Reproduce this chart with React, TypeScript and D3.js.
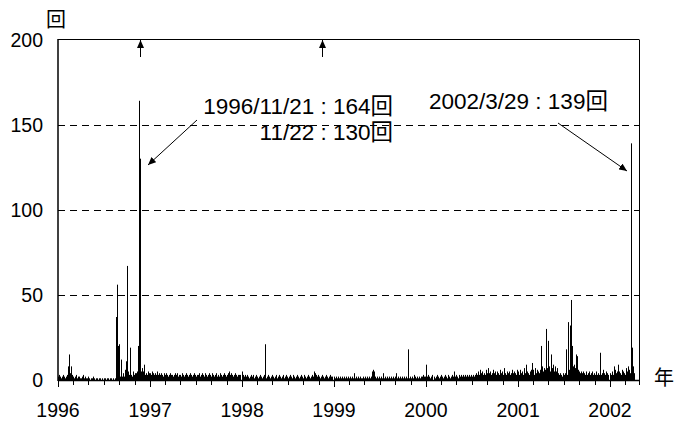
import React from "react";
import * as d3 from "d3";

// ---------- data ----------
const yTicks = [0, 50, 100, 150, 200];
const gridValues = [50, 100, 150];
const yearLabels = ["1996", "1997", "1998", "1999", "2000", "2001", "2002"];

// background daily counts, one character per 4-day bin (max count in the bin)
const bg1996 =
  "2321232123" + "3548321231" + "2211231211" + "2101121011" + "0110101101" +
  "10110101" + "6543232426" + "4353232534" + "45634545434354";
const bg1997 =
  "4354343534" + "3432434323" + "4332343423" + "3243234323" + "4323432334" +
  "2343243234" + "3243234232" + "4323432345" + "3432343233" + "3";
const bg1998 =
  "5323232123" + "2312321232" + "1232123212" + "3212312321" + "2312321232" +
  "1321232123" + "2132123212" + "3254323212" + "3212321232" + "2";
const bg1999 =
  "2121212121" + "2121212121" + "4121212112" + "1212121256" + "5212121214" +
  "1212121212" + "1241212121" + "2121212121" + "32121212232";
const bg2000 =
  "2523212321" + "2321232123" + "2132123252" + "3213232323" + "2323232323" +
  "4353645343" + "6474534645" + "3543645374" + "354534645436";
const bg2001 =
  "5364537465" + "4356463746" + "5463857697" + "6858795857" + "4343243453" +
  "5676989786" + "6545454353" + "4534534353" + "43534643543";
const bg2002 = "4353464575" + "4365437586" + "45784";
const bgStrings = [bg1996, bg1997, bg1998, bg1999, bg2000, bg2001, bg2002];

// individual days with larger counts
const spikeDates = [
  "1996-02-13", "1996-02-15", "1996-08-21", "1996-08-25", "1996-08-27",
  "1996-09-03", "1996-09-10", "1996-09-30", "1996-10-04", "1996-10-14",
  "1996-11-15", "1996-11-21", "1996-11-22", "1996-12-01", "1996-12-09",
  "1998-04-05", "1999-10-25", "2000-01-04",
  "2001-02-04", "2001-02-28", "2001-04-05", "2001-04-22", "2001-05-03",
  "2001-05-13", "2001-07-11", "2001-07-21", "2001-07-28", "2001-07-30",
  "2001-08-05", "2001-08-21", "2001-08-26", "2001-11-26",
  "2002-01-20", "2002-02-05", "2002-03-29", "2002-03-30",
];
const spikeValues = [
  8, 15, 37, 56, 20,
  21, 12, 11, 67, 19,
  20, 164, 130, 7, 9,
  21, 18, 9,
  9, 10, 20, 30, 23,
  15, 18, 34, 32, 47,
  20, 15, 14, 16,
  8, 9, 139, 19,
];

const topArrowDates = ["1996-11-21", "1998-11-13"];

const annotationLines = ["1996/11/21 : 164回", "11/22 : 130回", "2002/3/29 : 139回"];

// ---------- layout ----------
const W = 674;
const H = 421;
const LEFT = 58;
const RIGHT = 639;
const TOP = 39.5;
const BOTTOM = 380;
const FONT = "'Liberation Sans', Arial, 'Noto Sans CJK JP', sans-serif";
const CJK = "'Noto Sans CJK JP', 'Liberation Sans', sans-serif";

export default function App() {
  const parse = d3.utcParse("%Y-%m-%d");
  const start = new Date(Date.UTC(1996, 0, 1));
  const end = new Date(Date.UTC(2002, 3, 26));
  const x = d3.scaleUtc().domain([start, end]).range([LEFT, RIGHT]);
  const y = d3.scaleLinear().domain([0, 200]).range([BOTTOM, TOP]);

  const bars: { x: number; v: number }[] = [];
  yearLabels.forEach((yr, i) => {
    const s = bgStrings[i];
    const y0 = new Date(Date.UTC(+yr, 0, 1));
    const y1 = d3.utcYear.offset(y0, 1);
    for (let k = 0; k < s.length; k++) {
      const t = d3.utcDay.offset(y0, 4 * k);
      if (t >= y1 || t >= end) break;
      bars.push({ x: x(t), v: parseInt(s[k], 36) });
    }
  });
  spikeDates.forEach((d, i) => bars.push({ x: x(parse(d)!), v: spikeValues[i] }));

  const ticks = d3.utcMonth.every(2)!.range(start, d3.utcDay.offset(end, 1));
  const yearTicks = yearLabels.map((yr) => new Date(Date.UTC(+yr, 0, 1)));
  const crisp = (v: number) => Math.round(v) + 0.5;
  const barX = (v: number) => Math.floor(v) + 0.5;

  return (
    <svg
      width={W}
      height={H}
      style={{ position: "absolute", left: 0, top: 0, background: "#fff" }}
    >
      <defs>
        <marker
          id="ah"
          markerUnits="userSpaceOnUse"
          markerWidth={9}
          markerHeight={7}
          refX={8}
          refY={3.5}
          orient="auto"
        >
          <path d="M0,0 L8,3.5 L0,7 z" fill="#000" />
        </marker>
      </defs>
      <rect x={0} y={0} width={W} height={H} fill="#fff" />

      {/* gridlines */}
      {gridValues.map((g) => (
        <line
          key={g}
          x1={LEFT}
          x2={RIGHT}
          y1={crisp(y(g))}
          y2={crisp(y(g))}
          stroke="#000"
          strokeWidth={1}
          strokeDasharray="7,5"
        />
      ))}

      {/* bars */}
      {bars.map((b, i) => (
        <line
          key={i}
          x1={barX(b.x)}
          x2={barX(b.x)}
          y1={BOTTOM}
          y2={y(b.v)}
          stroke="#000"
          strokeWidth={1}
        />
      ))}

      {/* frame */}
      <line x1={LEFT} x2={RIGHT} y1={TOP} y2={TOP} stroke="#000" strokeWidth={1} />
      <line x1={RIGHT + 0.5} x2={RIGHT + 0.5} y1={TOP} y2={BOTTOM} stroke="#000" strokeWidth={1} />
      <line x1={LEFT} x2={LEFT} y1={TOP - 0.5} y2={BOTTOM + 1} stroke="#000" strokeWidth={1.5} />
      <line x1={LEFT} x2={RIGHT + 1} y1={BOTTOM + 0.5} y2={BOTTOM + 0.5} stroke="#000" strokeWidth={1.5} />

      {/* x ticks */}
      {ticks.map((t, i) => {
        const isYear = t.getUTCMonth() === 0;
        const xx = crisp(x(t));
        return (
          <line
            key={i}
            x1={xx}
            x2={xx}
            y1={BOTTOM}
            y2={BOTTOM + (isYear ? 7 : 5)}
            stroke="#000"
            strokeWidth={1}
          />
        );
      })}
      <line x1={RIGHT + 0.5} x2={RIGHT + 0.5} y1={BOTTOM} y2={BOTTOM + 5} stroke="#000" />

      {/* x labels */}
      {yearTicks.map((t, i) => (
        <text
          key={i}
          x={x(t)}
          y={417}
          textAnchor="middle"
          fontFamily={FONT}
          fontSize={19.5}
          fill="#000"
        >
          {yearLabels[i]}
        </text>
      ))}

      {/* y labels */}
      {yTicks.map((v) => (
        <text
          key={v}
          x={43}
          y={y(v) + 7}
          textAnchor="end"
          fontFamily={FONT}
          fontSize={19.5}
          fill="#000"
        >
          {v}
        </text>
      ))}

      {/* axis units */}
      <text x={46} y={27} fontFamily={CJK} fontSize={20} fill="#000">
        回
      </text>
      <text x={654} y={385} fontFamily={CJK} fontSize={20} fill="#000">
        年
      </text>

      {/* top arrows */}
      {topArrowDates.map((d) => {
        const xx = crisp(x(parse(d)!));
        return (
          <line
            key={d}
            x1={xx}
            x2={xx}
            y1={57}
            y2={40}
            stroke="#000"
            strokeWidth={1}
            markerEnd="url(#ah)"
          />
        );
      })}

      {/* annotations */}
      <text x={393} y={113.5} textAnchor="end" fontFamily={FONT} fontSize={22.5} fill="#000">
        {annotationLines[0]}
      </text>
      <text x={393} y={140} textAnchor="end" fontFamily={FONT} fontSize={22.5} fill="#000">
        {annotationLines[1]}
      </text>
      <text x={429} y={108.5} textAnchor="start" fontFamily={FONT} fontSize={22.5} fill="#000">
        {annotationLines[2]}
      </text>
      <line x1={197} y1={120} x2={148} y2={165} stroke="#000" strokeWidth={1} markerEnd="url(#ah)" />
      <line x1={558} y1={123} x2={627} y2={171} stroke="#000" strokeWidth={1} markerEnd="url(#ah)" />
    </svg>
  );
}
